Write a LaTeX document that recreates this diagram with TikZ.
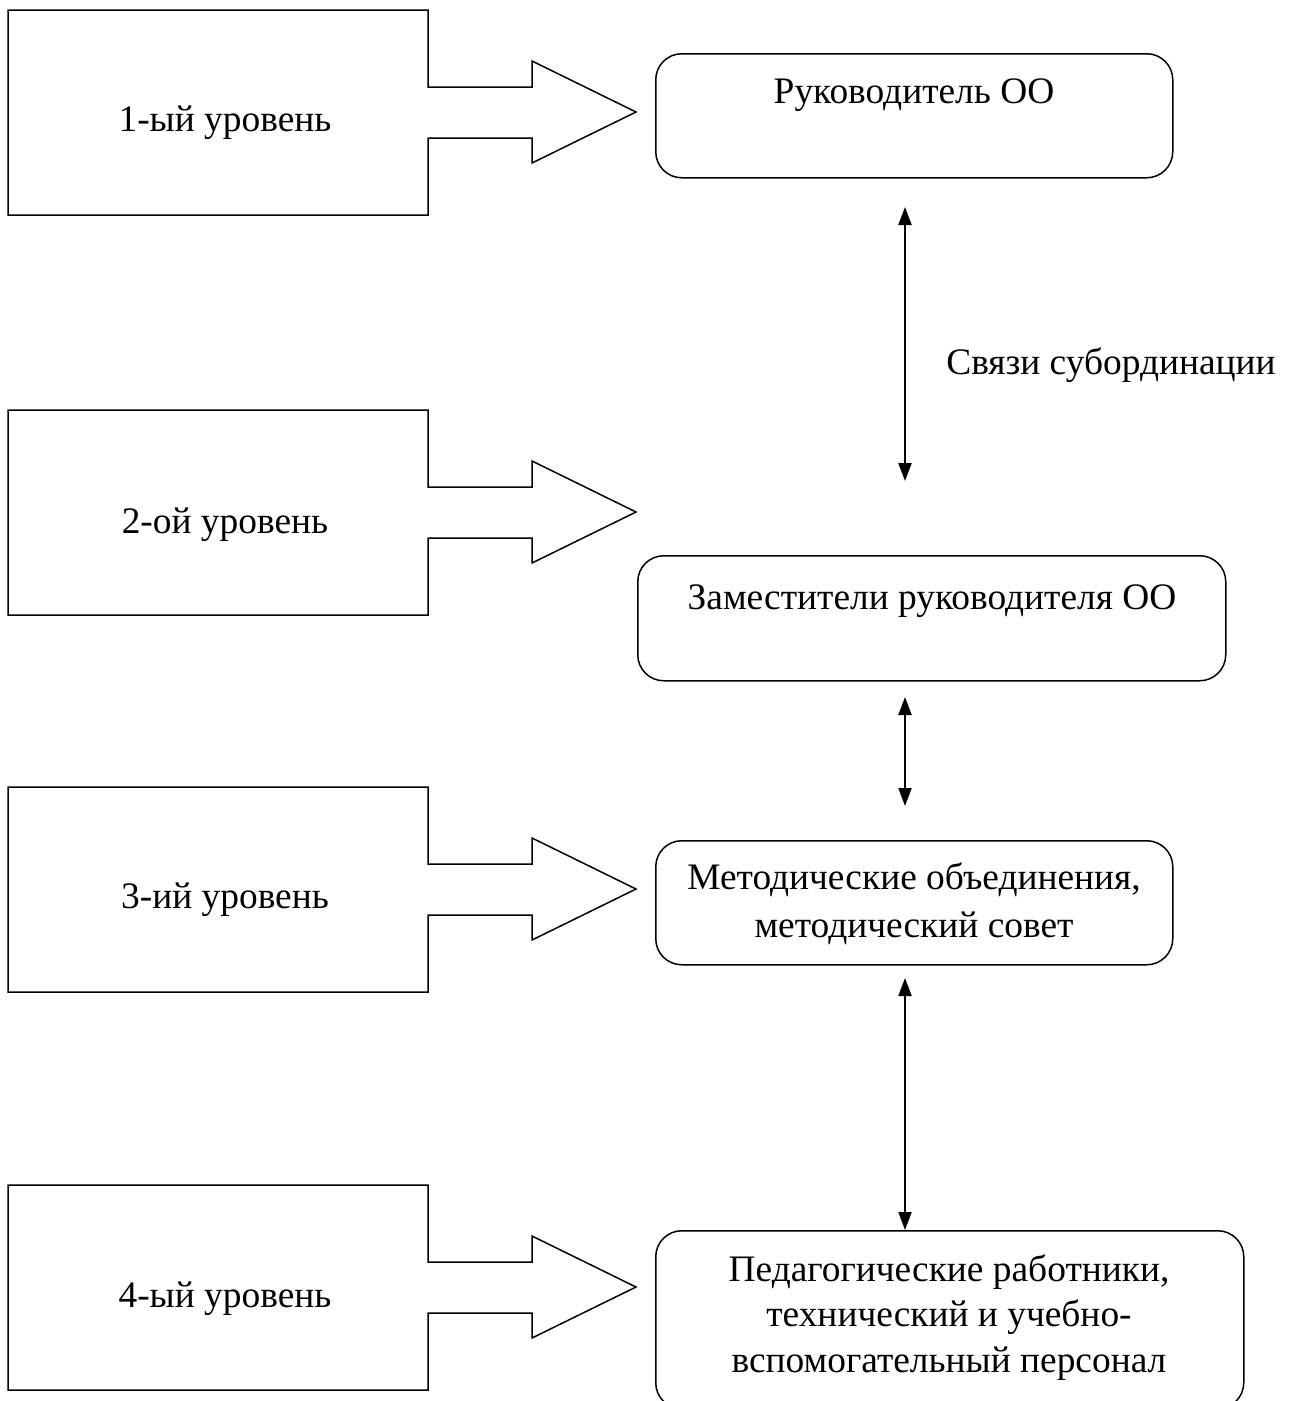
\documentclass[tikz,border=0pt]{standalone}
\usepackage{fontspec}
\setmainfont{Liberation Serif}
\usetikzlibrary{arrows.meta}
\begin{document}
\begin{tikzpicture}[x=1pt,y=-1pt,
  txt/.style={font=\fontsize{37.4}{46}\selectfont, inner sep=0pt, anchor=base},
  callout/.style={draw=black, line width=1.5pt, line join=miter},
  rbox/.style={draw=black, line width=1.5pt, rounded corners=26pt, anchor=north west, inner sep=0pt},
  link/.style={line width=2.2pt, {Triangle[width=13pt,length=18pt]}-{Triangle[width=13pt,length=18pt]}}
]
\useasboundingbox (0,0) rectangle (1295,1401);
\clip (0,0) rectangle (1295,1401);
% level callouts
\foreach \t in {10, 410, 787, 1185}{
  \draw[callout] (8,\t) -- (428,\t) -- (428,\t+77) -- (532,\t+77) -- (532,\t+51)
    -- (636,\t+102) -- (532,\t+153) -- (532,\t+128) -- (428,\t+128) -- (428,\t+205)
    -- (8,\t+205) -- cycle;
}
\node[txt] (l1) at (225,131) {1-ый уровень};
\node[txt] (l2) at (225,533) {2-ой уровень};
\node[txt] (l3) at (225,908) {3-ий уровень};
\node[txt] (l4) at (225,1307) {4-ый уровень};
% right boxes
\node[rbox, minimum width=517pt, minimum height=124pt] (r1) at (655,53) {};
\node[txt] (t1) at (914,103) {Руководитель ОО};
\node[rbox, minimum width=588pt, minimum height=125pt] (r2) at (637,555) {};
\node[txt] (t2) at (932,609) {Заместители руководителя ОО};
\node[rbox, minimum width=517pt, minimum height=124pt] (r3) at (655,840) {};
\node[txt] (t3a) at (914,889) {Методические объединения,};
\node[txt] (t3b) at (914,937) {методический совет};
\node[rbox, minimum width=588pt, minimum height=178pt] (r4) at (655,1230) {};
\node[txt] (t4a) at (949,1281) {Педагогические работники,};
\node[txt] (t4b) at (949,1326) {технический и учебно-};
\node[txt] (t4c) at (949,1372) {вспомогательный персонал};
% links
\coordinate (a1) at (905,207);
\coordinate (b1) at (905,481);
\coordinate (a2) at (905,697);
\coordinate (b2) at (905,806);
\coordinate (a3) at (905,978);
\draw[link] (a1) -- (b1);
\draw[link] (a2) -- (b2);
\draw[link] (a3) -- (r4.north -| a3);
\node[txt] (lab) at (1111,374) {Связи субординации};
\end{tikzpicture}
\end{document}
